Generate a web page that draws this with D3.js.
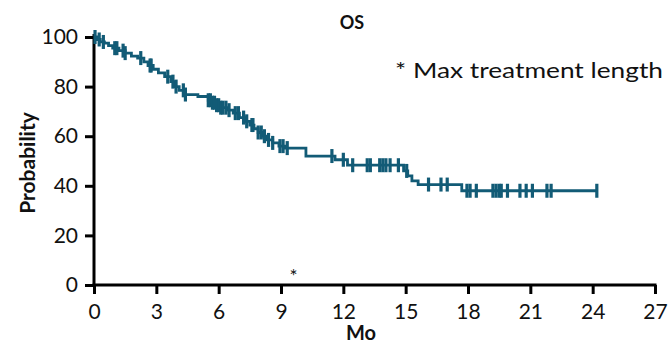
<!DOCTYPE html>
<html>
<head>
<meta charset="utf-8">
<script src="https://cdn.jsdelivr.net/npm/d3@7/dist/d3.min.js"></script>
<style>
  html, body { margin: 0; padding: 0; background: #fff; }
  svg { display: block; }
  text { font-family: Lato, "Open Sans", sans-serif; fill: #111; }
</style>
</head>
<body>
<svg id="chart" width="670" height="343"></svg>
<script>
// ---- data ----
const xTicks = [0, 3, 6, 9, 12, 15, 18, 21, 24, 27];
const yTicks = [0, 20, 40, 60, 80, 100];

// Kaplan-Meier step drops: time (months) and survival (%) after the drop
const stepTimes = [0.15, 0.3, 0.5, 0.7, 0.9, 1.2, 1.5, 1.8, 2.1, 2.4, 2.6, 2.85, 3.1, 3.4, 3.7, 3.9, 4.1, 4.35,
                   5.0, 5.5, 5.7, 5.9, 6.1, 6.4, 6.7, 7.0, 7.3, 7.5, 7.7, 7.9, 8.1, 8.3, 8.6, 8.9, 9.2,
                   10.2, 11.6, 12.2, 14.9, 15.1, 15.3, 15.6, 17.7];
const stepSurv  = [99, 98, 97.5, 96.5, 95.5, 94.5, 93.5, 92.3, 91.5, 90, 88.5, 87, 85.5, 84, 82, 80, 78.5, 76.8,
                   76, 74.5, 73.5, 72.5, 71.5, 70.5, 69.3, 67.5, 66, 64.5, 63, 61.5, 60, 58.5, 57.3, 56, 55.2,
                   52, 50.5, 48.3, 46, 44, 42, 40.5, 38];
const lastFollowUp = 24.2;

// censored observations (months)
const censorTimes = [0.05, 0.25, 0.45, 1.0, 1.1, 1.4, 1.5, 2.25, 2.7, 2.75, 3.55, 3.8, 3.95, 4.3, 4.4,
                     5.5, 5.6, 5.7, 5.8, 5.9, 6.0, 6.1, 6.2, 6.35, 6.5, 6.8, 6.95, 7.2, 7.35, 7.6, 7.65,
                     7.9, 8.05, 8.2, 8.4, 8.6, 8.95, 9.1, 9.3,
                     11.45, 12.0, 12.45, 13.15, 13.3, 13.75, 13.9, 14.05, 14.25, 14.65, 15.05,
                     16.1, 16.7, 17.0, 17.95, 18.1, 18.4, 19.2, 19.35, 19.5, 19.6, 19.9, 20.5, 20.8, 21.1,
                     21.8, 22.0, 24.2];

const maxTreatment = 9.6;

// ---- layout ----
const svg = d3.select("#chart");
const x = d3.scaleLinear().domain([0, 27]).range([94, 655]);
const y = d3.scaleLinear().domain([0, 100]).range([285, 37]);
const color = "#125b76";

// axes
const xAxis = d3.axisBottom(x).tickValues(xTicks).tickSize(9).tickPadding(10).tickSizeOuter(0);
const yAxis = d3.axisLeft(y).tickValues(yTicks).tickSize(9).tickPadding(7).tickSizeOuter(0);

const gx = svg.append("g").attr("transform", `translate(0,${y(0)})`).call(xAxis);
const gy = svg.append("g").attr("transform", `translate(${x(0)},0)`).call(yAxis);
[gx, gy].forEach(g => {
  g.select(".domain").attr("stroke", "#000").attr("stroke-width", 3);
  g.selectAll(".tick line").attr("stroke", "#000").attr("stroke-width", 3);
  g.selectAll(".tick text").style("font-size", "21px").style("font-family", "Lato, sans-serif").attr("fill", "#111");
});
gy.select(".domain").attr("d", `M0,${y(0) + 1.5}V${y(100) - 3}`);
gx.select(".domain").attr("d", `M${x(0) - 1.5},0H${x(27) + 1.5}`);

// KM curve
const pts = [[0, 100]];
stepTimes.forEach((t, i) => pts.push([t, stepSurv[i]]));
pts.push([lastFollowUp, stepSurv[stepSurv.length - 1]]);

const line = d3.line().x(d => x(d[0])).y(d => y(d[1])).curve(d3.curveStepAfter);
svg.append("path").datum(pts).attr("d", line)
  .attr("fill", "none").attr("stroke", color).attr("stroke-width", 2.8);

function survAt(t) {
  let s = 100;
  for (let i = 0; i < stepTimes.length; i++) { if (stepTimes[i] <= t) s = stepSurv[i]; }
  return s;
}
svg.append("g").selectAll("line").data(censorTimes).join("line")
  .attr("x1", d => x(d)).attr("x2", d => x(d))
  .attr("y1", d => y(survAt(d)) - 7).attr("y2", d => y(survAt(d)) + 7)
  .attr("stroke", color).attr("stroke-width", 3.2);

// texts
svg.append("text").attr("x", 352).attr("y", 29).attr("text-anchor", "middle")
  .style("font-size", "18px").style("font-weight", "bold").text("OS");
svg.append("text").attr("x", 395).attr("y", 78)
  .attr("textLength", 268).attr("lengthAdjust", "spacingAndGlyphs")
  .style("font-size", "22px").text("* Max treatment length");
svg.append("text").attr("x", x(maxTreatment)).attr("y", 283).attr("text-anchor", "middle")
  .style("font-size", "19px").text("*");
svg.append("text").attr("x", 361).attr("y", 340).attr("text-anchor", "middle")
  .style("font-size", "20px").style("font-weight", "bold").text("Mo");
svg.append("text").attr("transform", "translate(35,163) rotate(-90)").attr("text-anchor", "middle")
  .style("font-size", "21px").style("font-weight", "bold").text("Probability");
</script>
</body>
</html>
